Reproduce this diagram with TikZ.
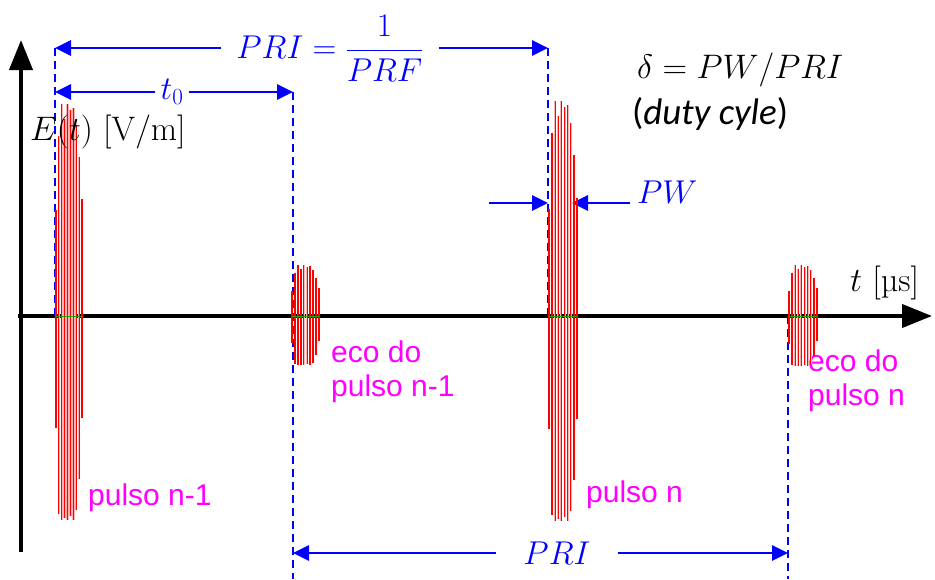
\RequirePackage{fix-cm}
\documentclass[tikz,border=0pt]{standalone}
\usepackage{fontspec}
\newfontfamily\arialf{Liberation Sans}
\newfontfamily\calib{Carlito}
\usetikzlibrary{arrows.meta}
\definecolor{pblue}{RGB}{0,0,255}
\definecolor{pmag}{RGB}{255,0,255}
\definecolor{pred}{RGB}{255,0,0}
\definecolor{pgreen}{RGB}{40,160,0}
\newcommand{\burst}[4]{%
  \foreach \f/\u/\d in {0/0.5/0.55, 0.11/0.85/0.97, 0.22/1/1, 0.33/0.93/0.99, 0.44/1/1, 0.56/0.97/0.98, 0.67/0.98/1, 0.78/0.9/0.95, 0.89/0.75/0.8, 1/0.55/0.5}{
    \draw[halo] ({#1+\f*#2},{316-\u*#3}) -- ({#1+\f*#2},{316+\d*#4});
  }
  \foreach \f/\u/\d in {0/0.5/0.55, 0.11/0.85/0.97, 0.22/1/1, 0.33/0.93/0.99, 0.44/1/1, 0.56/0.97/0.98, 0.67/0.98/1, 0.78/0.9/0.95, 0.89/0.75/0.8, 1/0.55/0.5}{
    \draw[burstline] ({#1+\f*#2},{316-\u*#3}) -- ({#1+\f*#2},{316+\d*#4});
  }
  \draw[pgreen, line width=1pt] (#1,316) -- ({#1+#2},316);
}
\begin{document}
\begin{tikzpicture}[x=1pt,y=-1pt,
  axis/.style={line width=4pt, black, -{Triangle[length=30pt,width=23pt]}},
  dashline/.style={pblue, line width=2.8pt, dash pattern=on 8pt off 5pt},
  dimarr/.style={pblue, line width=2.7pt, -{Triangle[length=16pt,width=15pt]}},
  halo/.style={pred!30, line width=2.2pt},
  burstline/.style={pred, line width=1.2pt},
  mathlab/.style={text=pblue, font=\fontsize{33}{38}\selectfont, inner sep=0pt},
  lab/.style={text=pmag, font=\arialf\fontsize{30}{34}\selectfont, inner sep=0pt, align=left},
  blacklab/.style={text=black, font=\fontsize{34}{38}\selectfont, inner sep=0pt}
]
\useasboundingbox (0,0) rectangle (935,579);
\fill[white] (0,0) rectangle (935,579);

% coordinates
\coordinate (yb) at (21,552);
\coordinate (yt) at (21,40);
\coordinate (xl) at (18,316);
\coordinate (xr) at (932,316);
\coordinate (d1t) at (55,48);   \coordinate (d1b) at (55,316);
\coordinate (d2t) at (293,92);  \coordinate (d2b) at (293,579);
\coordinate (d3t) at (548,48);  \coordinate (d3b) at (548,316);
\coordinate (d4t) at (788,316); \coordinate (d4b) at (788,579);
\coordinate (T1) at (55,92);    \coordinate (T2) at (293,92);
\coordinate (B1) at (293,553);  \coordinate (B2) at (788,553);
\coordinate (W1) at (489,203);  \coordinate (W2) at (548,203);
\coordinate (W3) at (630,203);  \coordinate (W4) at (572,203);

% axes
\draw[axis] (yb) -- (yt);
\draw[axis] (xl) -- (xr);

% dashed guides
\draw[dashline] (d1t) -- (d1b);
\draw[dashline] (d2t) -- (d2b);
\draw[dashline] (d3t) -- (d3b);
\draw[dashline] (d4t) -- (d4b);

% labels
\node[mathlab, fill=white, inner xsep=15pt] (pri) at (330,48) {$\displaystyle PRI=\frac{1}{PRF}$};
\draw[dimarr] (pri) -- (d1t);
\draw[dimarr] (pri) -- (d3t);

\node[mathlab, fill=white, inner xsep=5pt] (t0) at (172,92) {$t_0$};
\draw[dimarr] (t0) -- (T1);
\draw[dimarr] (t0) -- (T2);

\node[mathlab, fill=white, inner xsep=27pt] (pri2) at (557,553) {$PRI$};
\draw[dimarr] (pri2) -- (B1);
\draw[dimarr] (pri2) -- (B2);

\draw[dimarr] (W1) -- (W2);
\draw[dimarr] (W3) -- (W4);
\node[mathlab, anchor=west] (pw) at (637,192) {$PW$};

\node[blacklab, anchor=west] (delta) at (637,70) {$\delta = PW/PRI$};
\node[anchor=west, inner sep=0pt, font=\calib\fontsize{37}{40}\selectfont] (duty) at (632,114) {(\textit{duty cyle})};

\node[blacklab, anchor=west] (tx) at (850,283) {$t$ [µs]};

\node[lab, anchor=base west] (pn1) at (88,505) {pulso n-1};
\node[lab, anchor=base west] (pn) at (586,502) {pulso n};
\node[lab, anchor=north west] (e1) at (331,341) {eco do\\pulso n-1};
\node[lab, anchor=north west] (e2) at (808,350) {eco do\\pulso n};

% pulses
\burst{56}{26}{212}{204}
\burst{292}{27}{51}{49}
\burst{549}{28}{215}{205}
\burst{789}{28}{51}{50}

% axis label, kept readable over the first pulse
\node[blacklab, anchor=west] (ey) at (30,132) {$E(t)$ [V/m]};
\end{tikzpicture}
\end{document}
